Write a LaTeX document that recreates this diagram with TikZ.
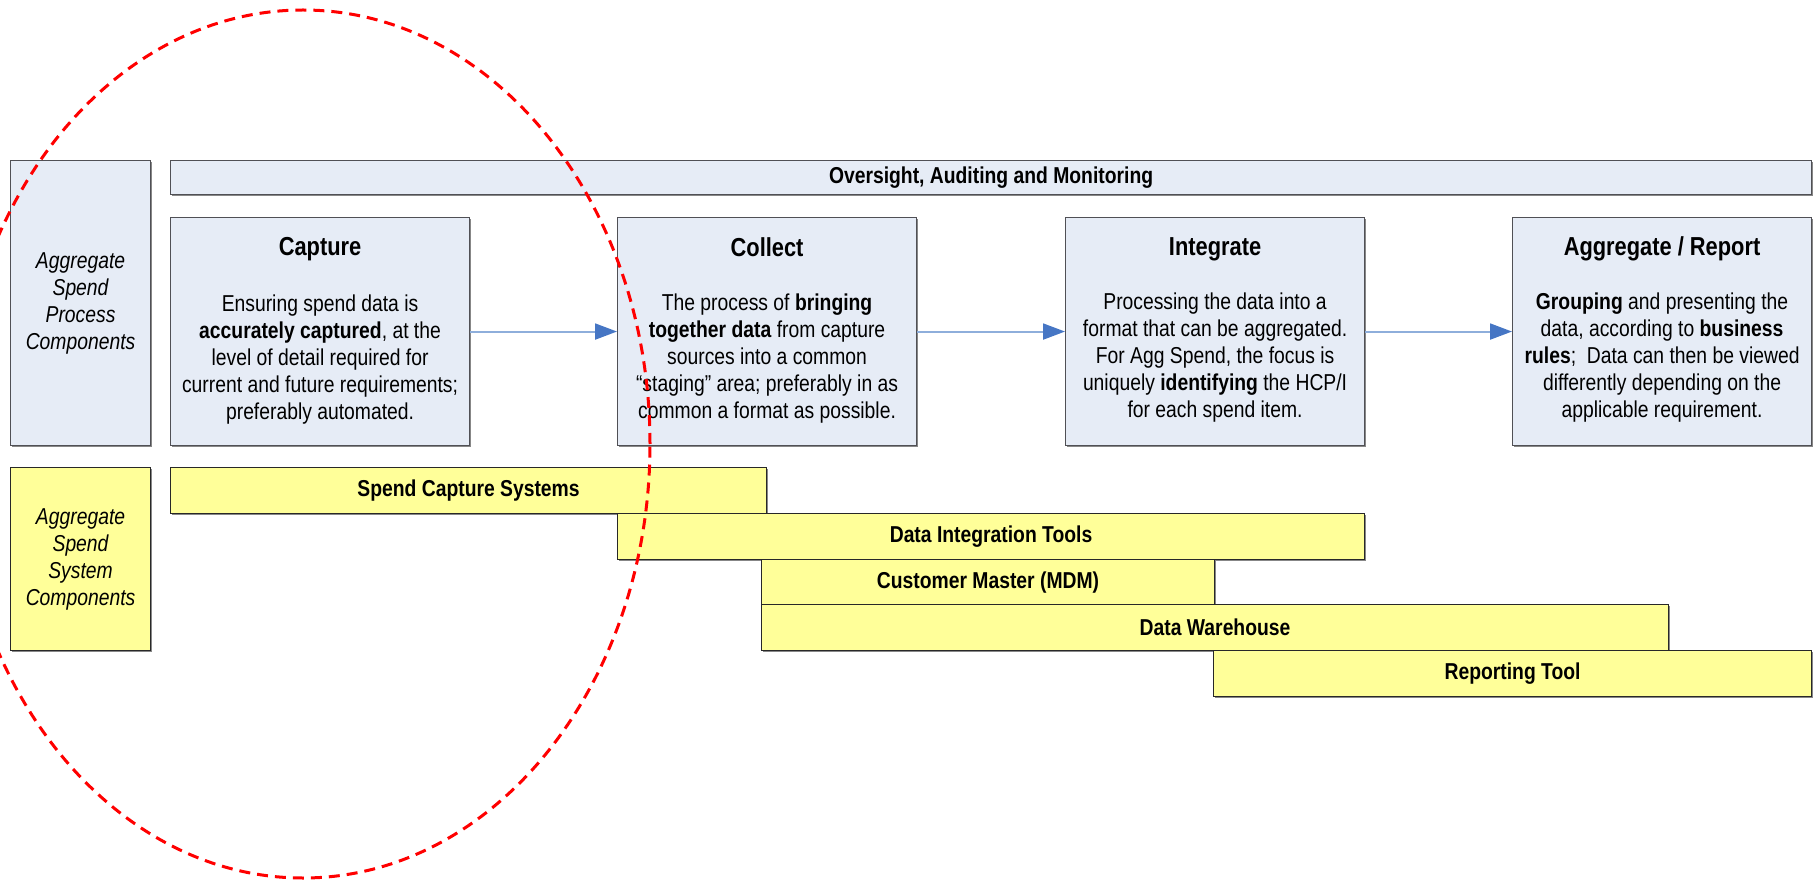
\documentclass[tikz,border=0pt]{standalone}
\usepackage{fontspec}
\setmainfont{Liberation Sans}[FakeStretch=0.84]
\usetikzlibrary{arrows.meta,shadows}

\definecolor{procfill}{RGB}{230,236,246}
\definecolor{procline}{RGB}{80,80,85}
\definecolor{sysfill}{RGB}{255,255,153}
\definecolor{sysline}{RGB}{40,40,40}
\definecolor{shadegray}{RGB}{135,135,135}
\definecolor{flowline}{RGB}{142,174,219}
\definecolor{flowhead}{RGB}{70,118,196}
\definecolor{ringred}{RGB}{255,0,0}

\newcommand{\bodyfont}{\fontsize{23}{27}\selectfont}
\newcommand{\headfont}{\fontsize{26}{30}\selectfont\bfseries}

\tikzset{
  softshadow/.style={drop shadow={shadow xshift=1.6pt, shadow yshift=-1.6pt,
    fill=shadegray, opacity=1}},
  procbox/.style={draw=procline, fill=procfill, line width=1.1pt,
    anchor=north west, inner sep=0pt, softshadow},
  sysbar/.style={draw=sysline, fill=sysfill, line width=1.1pt,
    anchor=north west, inner sep=0pt, minimum height=46pt, softshadow,
    font=\bodyfont\bfseries},
  stagebox/.style={procbox, minimum width=299pt, minimum height=228pt},
  sidelabel/.style={align=center, inner sep=0pt, font=\bodyfont\itshape},
  headtext/.style={inner sep=0pt, font=\headfont},
  bodytext/.style={align=center, inner sep=0pt, font=\bodyfont},
  flow/.style={draw=flowline, line width=2pt,
    -{Triangle[length=22pt,width=16pt,color=flowhead,fill=flowhead]}},
  ring/.style={draw=ringred, line width=3pt, dash pattern=on 11pt off 7pt}
}

\begin{document}
\begin{tikzpicture}[x=1pt,y=-1pt]
\useasboundingbox (0,0) rectangle (1820,882);

% side captions
\node[procbox, minimum width=140pt, minimum height=285pt] (procside) at (10,160) {};
\node[sidelabel] (proclabel) at (procside.center) {Aggregate\\Spend\\Process\\Components};
\node[sysbar, minimum width=140pt, minimum height=183pt] (sysside) at (10,467) {};
\node[sidelabel] (syslabel) at (sysside.center) {Aggregate\\Spend\\System\\Components};

% oversight bar
\node[procbox, minimum width=1641pt, minimum height=34pt, font=\bodyfont\bfseries] (oversight) at (170,160) {Oversight, Auditing and Monitoring};

% process stages
\node[stagebox] (capture) at (170,217) {};
\node[stagebox] (collect) at (617,217) {};
\node[stagebox] (integrate) at (1065,217) {};
\node[stagebox] (aggregate) at (1512,217) {};

\node[headtext] (captureh) at (capture.center |- 0,249) {Capture};
\node[bodytext] (captureb) at (capture.center |- 0,360) {Ensuring spend data is\\
  \textbf{accurately captured}, at the\\
  level of detail required for\\
  current and future requirements;\\
  preferably automated.};

\node[headtext] (collecth) at (collect.center |- 0,247) {Collect};
\node[bodytext] (collectb) at (collect.center |- 0,359) {The process of \textbf{bringing}\\
  \textbf{together data} from capture\\
  sources into a common\\
  “staging” area; preferably in as\\
  common a format as possible.};

\node[headtext] (integrateh) at (integrate.center |- 0,249) {Integrate};
\node[bodytext] (integrateb) at (integrate.center |- 0,358) {Processing the data into a\\
  format that can be aggregated.\\
  For Agg Spend, the focus is\\
  uniquely \textbf{identifying} the HCP/I\\
  for each spend item.};

\node[headtext] (aggregateh) at (aggregate.center |- 0,249) {Aggregate / Report};
\node[bodytext] (aggregateb) at (aggregate.center |- 0,358) {\textbf{Grouping} and presenting the\\
  data, according to \textbf{business}\\
  \textbf{rules};\ \ Data can then be viewed\\
  differently depending on the\\
  applicable requirement.};

\draw[flow] (capture) -- (collect);
\draw[flow] (collect) -- (integrate);
\draw[flow] (integrate) -- (aggregate);

% system components
\node[sysbar, minimum width=596pt] (spendcap) at (170,467) {Spend Capture Systems};
\node[sysbar, minimum width=747pt] (dataint) at (617,513) {Data Integration Tools};
\node[sysbar, minimum width=453pt] (custmaster) at (761,559) {Customer Master (MDM)};
\node[sysbar, minimum width=907pt] (warehouse) at (761,604) {Data Warehouse};
\node[sysbar, minimum width=598pt] (reporting) at (1213,650) {Reporting Tool};

% highlight ring
\draw[ring] (303,444) ellipse [x radius=347pt, y radius=434pt];
\end{tikzpicture}
\end{document}
